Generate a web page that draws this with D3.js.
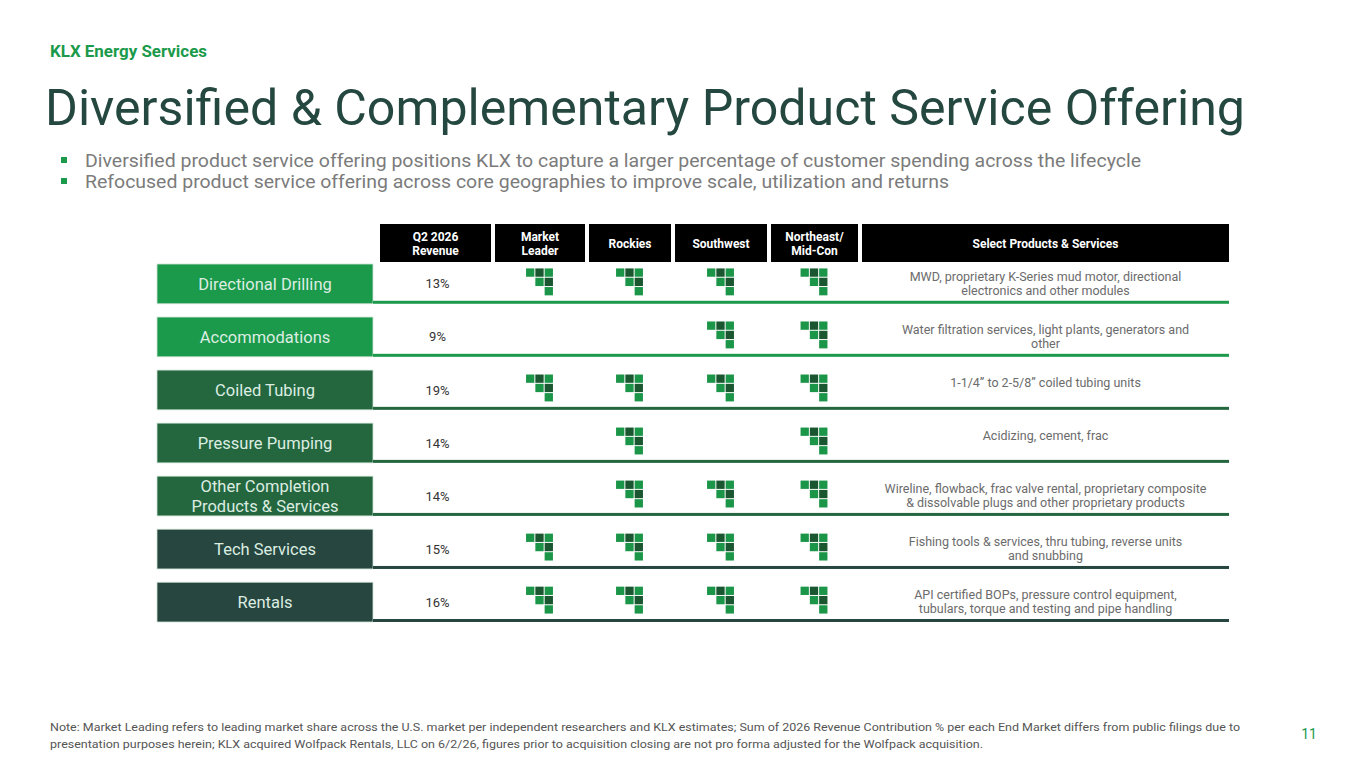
<!DOCTYPE html>
<html>
<head>
<meta charset="utf-8">
<script src="https://cdn.jsdelivr.net/npm/d3@7"></script>
<style>
  body { margin: 0; background: #fff; }
  svg { display: block; font-family: Roboto, "Noto Sans", sans-serif; }
</style>
</head>
<body>
<script>
// slide data
let services = ["Directional Drilling", "Accommodations", "Coiled Tubing", "Pressure Pumping",
                "Other Completion\nProducts & Services", "Tech Services", "Rentals"];
let revenue = [13, 9, 19, 14, 14, 15, 16];
let regions = ["Market\nLeader", "Rockies", "Southwest", "Northeast/\nMid-Con"];
// 1 = icon shown in that column
let presence = [
    [1, 1, 1, 1],
    [0, 0, 1, 1],
    [1, 1, 1, 1],
    [0, 1, 0, 1],
    [0, 1, 1, 1],
    [1, 1, 1, 1],
    [1, 1, 1, 1]
];
let products = [
    "MWD, proprietary K-Series mud motor, directional\nelectronics and other modules",
    "Water filtration services, light plants, generators and\nother",
    "1-1/4\u201d to 2-5/8\u201d coiled tubing units",
    "Acidizing, cement, frac",
    "Wireline, flowback, frac valve rental, proprietary composite\n& dissolvable plugs  and other proprietary products",
    "Fishing tools & services, thru tubing, reverse units\nand snubbing",
    "API certified BOPs, pressure control equipment,\ntubulars, torque and testing and pipe handling"
];
let segment = ["bright", "bright", "mid", "mid", "mid", "dark", "dark"];
let bullets = [
    "Diversified product service offering positions KLX to capture a larger percentage of customer spending across the lifecycle",
    "Refocused product service offering across core geographies to improve scale, utilization and returns"
];
let noteLines = [
    "Note: Market Leading refers to leading market share across the U.S. market per independent researchers and KLX estimates; Sum of 2026 Revenue Contribution % per each End Market differs from public filings due to",
    "presentation purposes herein; KLX acquired Wolfpack Rentals, LLC on 6/2/26, figures prior to acquisition closing are not pro forma adjusted for the Wolfpack acquisition."
];

let width = 1365, height = 768;
let svg = d3.select("body").append("svg")
    .attr("width", width)
    .attr("height", height);

let segColor = d3.scaleOrdinal()
    .domain(["bright", "mid", "dark"])
    .range(["#1b9a4b", "#24673f", "#26463f"]);

// squeeze text to a given width (the deck font is narrower than ours)
fitText = (sel, w) => {
    sel.each(function() {
        let len = this.getComputedTextLength();
        if (len > 0) {
            d3.select(this).attr("textLength", w).attr("lengthAdjust", "spacingAndGlyphs");
        }
    });
}

// header texts
svg.append("text")
    .attr("x", 50).attr("y", 57)
    .attr("font-size", 16).attr("font-weight", 700)
    .style("fill", "#1b9a4b")
    .text("KLX Energy Services")
    .call(fitText, 157);

svg.append("text")
    .attr("x", 45).attr("y", 125)
    .attr("font-size", 50)
    .style("fill", "#24473f")
    .text("Diversified & Complementary Product Service Offering")
    .call(fitText, 1200);

let bulletWidths = [1056, 864];
bullets.forEach((b, i) => {
    let y = 167 + i * 21;
    svg.append("rect")
        .attr("x", 61).attr("y", y - 10)
        .attr("width", 6).attr("height", 6)
        .style("fill", "#1b9a4b");
    svg.append("text")
        .attr("x", 85).attr("y", y)
        .attr("font-size", 18)
        .style("fill", "#7b7b7b")
        .text(b)
        .call(fitText, bulletWidths[i]);
});

// table layout
let headerTop = 224, headerH = 38;
let colWidths = [111, 90, 82, 92, 87, 367];
let colLabels = ["Q2 2026\nRevenue"].concat(regions).concat(["Select Products & Services"]);
let colX = [];
let cx = 380;
colWidths.forEach((w) => { colX.push(cx); cx += w + 4; });

let header = svg.append("g");
colLabels.forEach((lab, i) => {
    header.append("rect")
        .attr("x", colX[i]).attr("y", headerTop)
        .attr("width", colWidths[i]).attr("height", headerH)
        .style("fill", "#000");
    let lines = lab.split("\n");
    lines.forEach((ln, j) => {
        header.append("text")
            .attr("x", colX[i] + colWidths[i] / 2)
            .attr("y", headerTop + headerH / 2 + 1 + (j - (lines.length - 1) / 2) * 14)
            .attr("dy", "0.35em")
            .attr("text-anchor", "middle")
            .attr("font-size", 12).attr("font-weight", 700)
            .style("fill", "#fff")
            .text(ln);
    });
});

let y = d3.scaleBand()
    .domain(services)
    .range([264, 622])
    .paddingInner(0.25);

let regionX = d3.scaleOrdinal()
    .domain(regions)
    .range(regions.map((r, i) => colX[i + 1] + colWidths[i + 1] / 2));

let labelX0 = 157, labelX1 = 373, tableRight = 1229;

let rows = svg.selectAll("g.row")
    .data(services)
    .enter()
    .append("g")
        .attr("class", "row");

rows.append("rect")
    .attr("x", labelX0)
    .attr("y", (d) => y(d))
    .attr("width", labelX1 - labelX0)
    .attr("height", y.bandwidth())
    .style("fill", (d, i) => segColor(segment[i]))
    .style("stroke", "#cfe3d6")
    .style("stroke-width", 0.8);

rows.append("rect")
    .attr("x", labelX1)
    .attr("y", (d) => y(d) + y.bandwidth() - 3)
    .attr("width", tableRight - labelX1)
    .attr("height", 3)
    .style("fill", (d, i) => segColor(segment[i]));

rows.each(function(d, i) {
    let g = d3.select(this);
    let mid = y(d) + y.bandwidth() / 2;
    let lines = d.split("\n");
    lines.forEach((ln, j) => {
        g.append("text")
            .attr("x", (labelX0 + labelX1) / 2)
            .attr("y", mid + (j - (lines.length - 1) / 2) * 20)
            .attr("dy", "0.35em")
            .attr("text-anchor", "middle")
            .attr("font-size", 16.5)
            .style("fill", "#dcede2")
            .text(ln);
    });

    g.append("text")
        .attr("x", colX[0] + colWidths[0] / 2 + 2)
        .attr("y", mid)
        .attr("dy", "0.35em")
        .attr("text-anchor", "middle")
        .attr("font-size", 13)
        .style("fill", "#333")
        .text(revenue[i] + "%");

    let plines = products[i].split("\n");
    plines.forEach((ln, j) => {
        g.append("text")
            .attr("x", colX[5] + colWidths[5] / 2)
            .attr("y", y(d) + 17 + j * 14)
            .attr("text-anchor", "middle")
            .attr("font-size", 12.5)
            .style("fill", "#6b6b6b")
            .text(ln);
    });
});

// leader icon: 3x3 stepped block of squares
let cell = 9.3;
let iconCells = [
    {c: 0, r: 0, dark: false}, {c: 1, r: 0, dark: true}, {c: 2, r: 0, dark: false},
    {c: 1, r: 1, dark: false}, {c: 2, r: 1, dark: true},
    {c: 2, r: 2, dark: false}
];
let icons = [];
services.forEach((s, i) => {
    regions.forEach((r, j) => {
        if (presence[i][j]) icons.push({service: s, region: r});
    });
});

let iconG = svg.selectAll("g.icon")
    .data(icons)
    .enter()
    .append("g")
        .attr("class", "icon")
        .attr("transform", (d) => {
            let x0 = regionX(d.region) - cell * 1.5;
            let y0 = y(d.service) + (y.bandwidth() - 3) / 2 - cell * 1.5;
            return "translate(" + x0 + "," + y0 + ")";
        });

iconG.selectAll("rect")
    .data(iconCells)
    .enter()
    .append("rect")
        .attr("x", (d) => d.c * cell)
        .attr("y", (d) => d.r * cell)
        .attr("width", cell - 1)
        .attr("height", cell - 1)
        .style("fill", (d) => d.dark ? "#1a5630" : "#1b9548");

// footnote
let noteWidths = [1190, 933];
noteLines.forEach((n, i) => {
    svg.append("text")
        .attr("x", 50).attr("y", 731 + i * 17)
        .attr("font-size", 11.5)
        .style("fill", "#555")
        .text(n)
        .call(fitText, noteWidths[i]);
});

svg.append("text")
    .attr("x", 1309).attr("y", 739)
    .attr("text-anchor", "middle")
    .attr("font-size", 14)
    .style("fill", "#1b9a4b")
    .text("11");
</script>
</body>
</html>
